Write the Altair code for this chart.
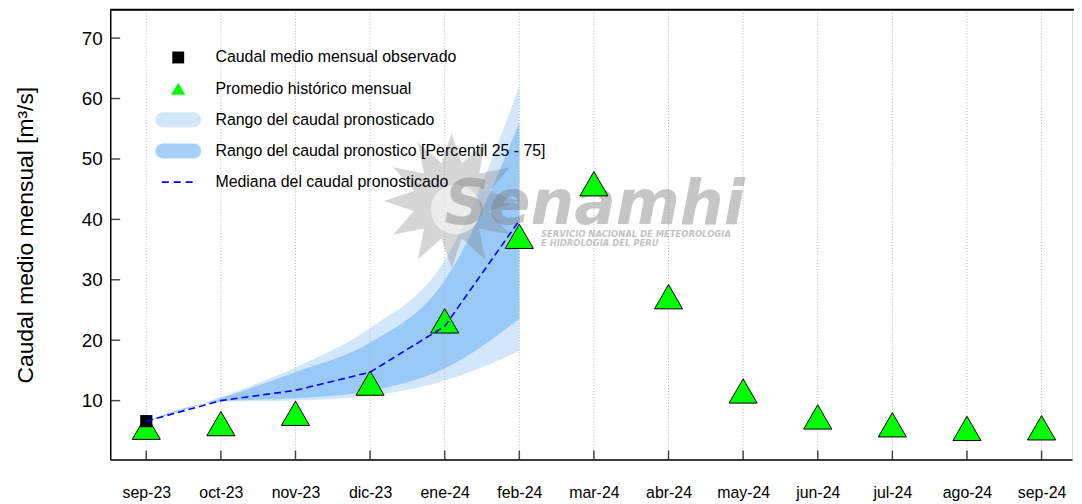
import altair as alt
import pandas as pd

# ---------------- data ----------------
months = ['sep-23', 'oct-23', 'nov-23', 'dic-23', 'ene-24', 'feb-24', 'mar-24',
          'abr-24', 'may-24', 'jun-24', 'jul-24', 'ago-24', 'sep-24']
historico = [5.6, 6.2, 7.9, 12.9, 23.2, 37.2, 45.9, 27.2, 11.6, 7.3, 6.0, 5.4, 5.5]
obs_months = ['sep-23']
observado = [6.6]
fc_months = ['sep-23', 'oct-23', 'nov-23', 'dic-23', 'ene-24', 'feb-24']
mediana = [6.6, 10.0, 11.7, 14.7, 22.3, 39.8]
rango_min = [6.6, 9.8, 10.0, 10.8, 13.3, 18.2]
rango_max = [6.6, 10.6, 15.5, 22.0, 33.2, 62.0]
p25 = [6.6, 9.9, 10.4, 11.6, 15.3, 23.5]
p75 = [6.6, 10.4, 14.7, 19.6, 29.9, 56.0]
y_ticks = [10, 20, 30, 40, 50, 60, 70]
legend_labels = ['Caudal medio mensual observado',
                 'Promedio histórico mensual',
                 'Rango del caudal pronosticado',
                 'Rango del caudal pronostico [Percentil 25 - 75]',
                 'Mediana del caudal pronosticado']
y_title = 'Caudal medio mensual  [m³/s]'
wm_title = 'Senamhi'
wm_lines = ['SERVICIO NACIONAL DE METEOROLOGIA', 'E HIDROLOGIA DEL PERU']

# ---------------- tables ----------------
idx = {m: i for i, m in enumerate(months)}
hist_df = pd.DataFrame({'i': [idx[m] for m in months], 'v': historico})
obs_df = pd.DataFrame({'i': [idx[m] for m in obs_months], 'v': observado})
fc_df = pd.DataFrame({'i': [idx[m] for m in fc_months], 'med': mediana,
                      'lo': rango_min, 'hi': rango_max, 'p25': p25, 'p75': p75})
grid_df = pd.DataFrame({'i': list(range(len(months)))})
ytick_df = pd.DataFrame({'v': y_ticks})
one = pd.DataFrame({'a': [0]})

W, H = 969, 453
FONT = 'Liberation Sans'

x_scale = alt.Scale(domain=[-0.483, 12.408], nice=False, zero=False)
y_scale = alt.Scale(domain=[0.26, 74.68], nice=False, zero=False)

x_axis = alt.Axis(values=list(range(len(months))),
                  labelExpr=f"{months}[datum.value]",
                  grid=False, ticks=False, tickSize=0, domain=True,
                  domainColor='black', domainWidth=1.5,
                  labelFont=FONT, labelFontSize=16, labelColor='black',
                  labelPadding=25, labelAngle=0, title=None)
y_axis = alt.Axis(values=y_ticks, grid=False, ticks=False, tickSize=0,
                  domain=True, domainColor='black', domainWidth=1.5,
                  labelFont=FONT, labelFontSize=19, labelColor='black',
                  labelPadding=8, title=y_title, titleFont=FONT,
                  titleFontSize=23, titleFontWeight='normal',
                  titleColor='black', titleX=-78,
                  titleBaseline='alphabetic')

def X(field):
    return alt.X(field, scale=x_scale, axis=x_axis)

def Y(field):
    return alt.Y(field, scale=y_scale, axis=y_axis)

# ---------------- layers ----------------
light = alt.Chart(fc_df).mark_area(color='#d3e7fb', interpolate='monotone').encode(
    x=X('i:Q'), y=Y('lo:Q'), y2='hi:Q')
dark = alt.Chart(fc_df).mark_area(color='#98c9f7', interpolate='monotone').encode(
    x=X('i:Q'), y=Y('p25:Q'), y2='p75:Q')

grid = alt.Chart(grid_df).mark_rule(color='#b4b4b4', strokeDash=[1, 2],
                                    strokeWidth=1).encode(x=X('i:Q'))

WM_GRAY = '#7a7a7a'
wm_sun = alt.Chart(one).mark_text(text='✹', font='DejaVu Sans', fontSize=180,
                                  color=WM_GRAY, opacity=0.3,
                                  baseline='middle', align='center').encode(
    x=alt.value(344), y=alt.value(204))
wm_core = alt.Chart(one).mark_point(shape='circle', filled=True, color='white',
                                    opacity=0.55, size=2500).encode(
    x=alt.value(348), y=alt.value(201))
wm_name = alt.Chart(one).mark_text(text=wm_title, font='DejaVu Sans',
                                   fontSize=62, fontWeight='bold',
                                   fontStyle='italic', color=WM_GRAY,
                                   opacity=0.42, baseline='alphabetic',
                                   align='center').encode(
    x=alt.value(488), y=alt.value(216))
wm_sub = [alt.Chart(one).mark_text(text=t, font='DejaVu Sans', fontSize=8.5,
                                   fontWeight='bold', fontStyle='italic',
                                   color=WM_GRAY, opacity=0.45,
                                   baseline='middle', align='left').encode(
    x=alt.value(434), y=alt.value(225.5 + 9.5 * k))
    for k, t in enumerate(wm_lines)]

tri = alt.Chart(hist_df).mark_point(shape='triangle-up', filled=True,
                                    fill='#00ff00', stroke='black',
                                    strokeWidth=1, size=800, opacity=1).encode(
    x=X('i:Q'), y=Y('v:Q'))
obs = alt.Chart(obs_df).mark_point(shape='square', filled=True, color='black',
                                   size=150, opacity=1).encode(
    x=X('i:Q'), y=Y('v:Q'))
med = alt.Chart(fc_df).mark_line(color='#0000ff', strokeDash=[7, 4],
                                 strokeWidth=1.6).encode(
    x=X('i:Q'), y=Y('med:Q'))

yticks = alt.Chart(ytick_df).mark_tick(orient='horizontal', size=10,
                                       thickness=1.5, color='black').encode(
    x=alt.value(5), y=Y('v:Q'))
xticks = alt.Chart(grid_df).mark_tick(orient='vertical', size=9,
                                      thickness=1.5, color='black').encode(
    x=X('i:Q'), y=alt.value(H - 4.5))

top_border = alt.Chart(one).mark_rule(color='black', strokeWidth=2).encode(
    x=alt.value(0), x2=alt.value(W + 2), y=alt.value(0))

# legend (manual)
LX_SYM, LX_TXT, LY0, LDY = 68.5, 106, 48, 31.4
leg_rows = [LY0 + LDY * k for k in range(len(legend_labels))]
leg_text = [alt.Chart(pd.DataFrame({'label': [lab]})).mark_text(
    font=FONT, fontSize=16, color='black', align='left', baseline='middle').encode(
    x=alt.value(LX_TXT), y=alt.value(leg_rows[k]), text='label:N')
    for k, lab in enumerate(legend_labels)]
leg_sq = alt.Chart(one).mark_point(shape='square', filled=True, color='black',
                                   size=144, opacity=1).encode(
    x=alt.value(LX_SYM), y=alt.value(leg_rows[0]))
leg_tri = alt.Chart(one).mark_point(shape='triangle-up', filled=True,
                                    color='#00ff00', size=200, opacity=1).encode(
    x=alt.value(LX_SYM), y=alt.value(leg_rows[1]))
leg_light = alt.Chart(one).mark_rect(color='#d3e7fb', cornerRadius=7.5).encode(
    x=alt.value(LX_SYM - 23), x2=alt.value(LX_SYM + 23),
    y=alt.value(leg_rows[2] - 7.5), y2=alt.value(leg_rows[2] + 7.5))
leg_dark = alt.Chart(one).mark_rect(color='#a6d0f8', cornerRadius=7.5).encode(
    x=alt.value(LX_SYM - 23), x2=alt.value(LX_SYM + 23),
    y=alt.value(leg_rows[3] - 7.5), y2=alt.value(leg_rows[3] + 7.5))
leg_dash = alt.Chart(one).mark_rule(color='#0000ff', strokeDash=[7, 5],
                                    strokeWidth=1.6).encode(
    x=alt.value(LX_SYM - 16.5), x2=alt.value(LX_SYM + 16.5),
    y=alt.value(leg_rows[4]))

chart = alt.layer(
    light, dark, grid, wm_sun, wm_core, wm_name, *wm_sub,
    tri, obs, med, yticks, xticks, top_border,
    leg_sq, leg_tri, leg_light, leg_dark, leg_dash, *leg_text
).properties(
    width=W, height=H,
    autosize=alt.AutoSizeParams(type='none'),
    padding={'left': 103, 'top': 0, 'right': 2, 'bottom': 42}
).configure_view(stroke=None).configure(background='white')

chart.save("out.html", embed_options={"renderer": "svg", "actions": False})
